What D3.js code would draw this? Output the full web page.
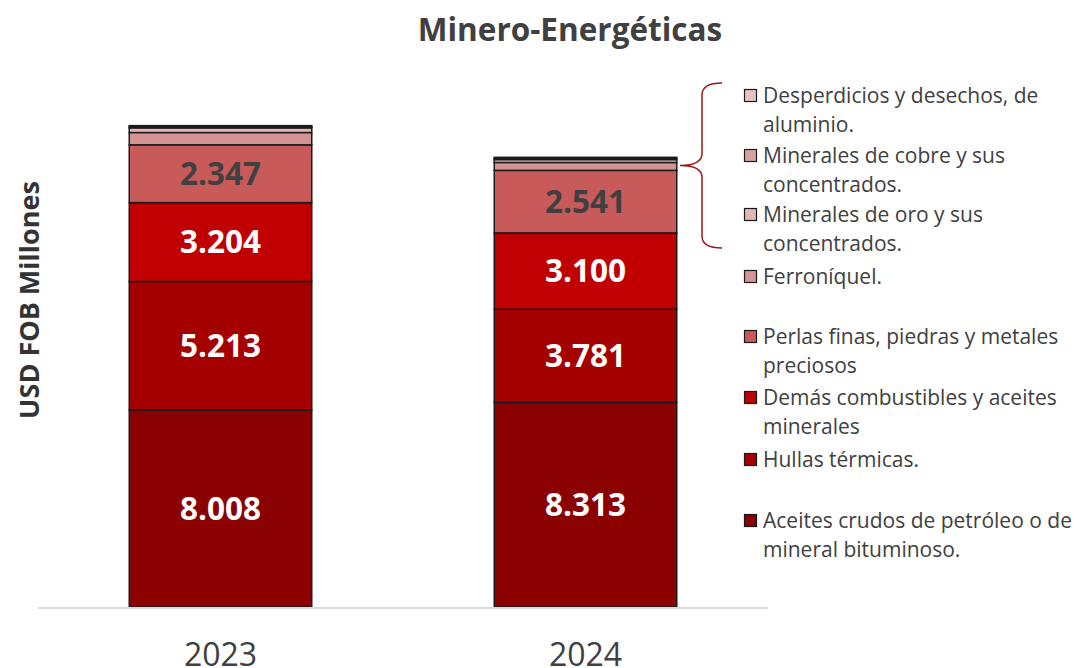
<!DOCTYPE html>
<html>
<head>
<meta charset="utf-8">
<script src="https://cdn.jsdelivr.net/npm/d3@7/dist/d3.min.js"></script>
<style>
  html, body { margin: 0; padding: 0; background: #ffffff; }
  svg { display: block; font-family: "Open Sans", "Noto Sans", sans-serif; }
</style>
</head>
<body>
<svg id="chart" width="1079" height="668"></svg>
<script>
// ---- Data ----
const years = ["2023", "2024"];
const seriesNames = [
  "Aceites crudos de petróleo o de mineral bituminoso.",
  "Hullas térmicas.",
  "Demás combustibles y aceites minerales",
  "Perlas finas, piedras y metales preciosos",
  "Ferroníquel.",
  "Minerales de oro y sus concentrados.",
  "Minerales de cobre y sus concentrados.",
  "Desperdicios y desechos, de aluminio."
];
const values2023 = [8008, 5213, 3204, 2347, 500, 190, 50, 40];
const values2024 = [8313, 3781, 3100, 2541, 320, 120, 50, 40];
const labelled = [true, true, true, true, false, false, false, false];
const colors = ["#8b0000", "#a50000", "#c00000", "#c85a5a", "#d49494", "#e4b6b6", "#d9a2a2", "#e8c2c2"];
const labelColors = ["#ffffff", "#ffffff", "#ffffff", "#404040"];
// legend lines (display order top to bottom)
const legendOrder = [7, 6, 5, 4, 3, 2, 1, 0];
const legendLines = [
  ["Desperdicios y desechos, de", "aluminio."],
  ["Minerales de cobre y sus", "concentrados."],
  ["Minerales de oro y sus", "concentrados."],
  ["Ferroníquel."],
  ["Perlas finas, piedras y metales", "preciosos"],
  ["Demás combustibles y aceites", "minerales"],
  ["Hullas térmicas."],
  ["Aceites crudos de petróleo o de", "mineral bituminoso."]
];

// ---- Layout ----
const svg = d3.select("#chart");
const baseY = 607;
const x = d3.scaleBand().domain(years).range([38, 768]).paddingInner(0.5).paddingOuter(0.25);
const y = d3.scaleLinear().domain([0, 20000]).range([baseY, baseY - 20 * 24.62]);
const fmt = v => d3.format(",")(v).replace(/,/g, ".");

const table = years.map((yr, i) => {
  const vals = i === 0 ? values2023 : values2024;
  const o = { year: yr };
  seriesNames.forEach((s, k) => o[s] = vals[k]);
  return o;
});
const stack = d3.stack().keys(seriesNames)(table);

// Title
svg.append("text").attr("x", 570).attr("y", 41).attr("text-anchor", "middle")
  .attr("font-size", 31.5).attr("font-weight", 700).attr("fill", "#404040")
  .text("Minero-Energéticas");

// Y title
svg.append("text").attr("transform", "translate(39,300) rotate(-90)").attr("text-anchor", "middle")
  .attr("font-size", 27).attr("font-weight", 700).attr("fill", "#333333")
  .text("USD FOB Millones");

// Bars
const layers = svg.append("g").selectAll("g").data(stack).join("g")
  .attr("fill", (d, i) => colors[i]);
layers.selectAll("rect").data(d => d.map(p => ({ p, key: d.key }))).join("rect")
  .attr("x", d => x(d.p.data.year))
  .attr("width", x.bandwidth())
  .attr("y", d => y(d.p[1]))
  .attr("height", d => y(d.p[0]) - y(d.p[1]))
  .attr("stroke", "#1a1a1a").attr("stroke-width", 1.5);

// Axis line
svg.append("line").attr("x1", 38).attr("x2", 768).attr("y1", baseY + 1).attr("y2", baseY + 1)
  .attr("stroke", "#d9d9d9").attr("stroke-width", 2);

// Value labels
stack.forEach((layer, i) => {
  if (!labelled[i]) return;
  layer.forEach(p => {
    svg.append("text")
      .attr("x", x(p.data.year) + x.bandwidth() / 2)
      .attr("y", (y(p[0]) + y(p[1])) / 2)
      .attr("dy", "0.36em")
      .attr("text-anchor", "middle")
      .attr("font-size", 31.5).attr("font-weight", 700)
      .attr("fill", labelColors[i])
      .text(fmt(p[1] - p[0]));
  });
});

// X axis labels
const xAxis = svg.append("g").attr("transform", `translate(0,${baseY})`)
  .call(d3.axisBottom(x).tickSize(0).tickPadding(0));
xAxis.select(".domain").remove();
xAxis.selectAll("text").attr("y", 59).attr("dy", 0).attr("font-size", 32)
  .attr("fill", "#404040").attr("font-family", "Open Sans, sans-serif");

// Legend
const legendTop = [96, 156, 215, 277, 337, 398, 460, 521];
const lineH = 29;
const lg = svg.append("g");
legendOrder.forEach((si, j) => {
  const cy = legendTop[j];
  lg.append("rect").attr("x", 744.5).attr("y", cy - 6.5).attr("width", 12).attr("height", 12)
    .attr("fill", colors[si]).attr("stroke", "#1a1a1a").attr("stroke-width", 1.2);
  legendLines[j].forEach((t, k) => {
    lg.append("text").attr("x", 763).attr("y", cy + k * lineH).attr("dy", "0.35em")
      .attr("font-size", 21).attr("fill", "#404040").text(t);
  });
});

// Brace spanning the first three legend entries
const bTop = legendTop[0] - 13, bBot = legendTop[2] + lineH + 4;
const bMid = (bTop + bBot) / 2;
const bx = 702, bRight = 722, bTip = 680, r = 12;
svg.append("path")
  .attr("d", `M${bRight},${bTop} Q${bx},${bTop} ${bx},${bTop + r} L${bx},${bMid - r} Q${bx},${bMid} ${bTip},${bMid} Q${bx},${bMid} ${bx},${bMid + r} L${bx},${bBot - r} Q${bx},${bBot} ${bRight},${bBot}`)
  .attr("fill", "none").attr("stroke", "#a01a1a").attr("stroke-width", 1.5);
</script>
</body>
</html>
